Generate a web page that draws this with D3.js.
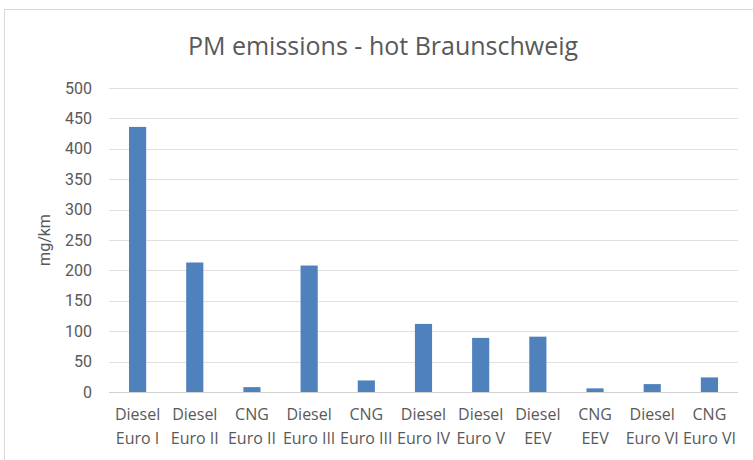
<!DOCTYPE html>
<html>
<head>
<meta charset="utf-8">
<script src="https://cdn.jsdelivr.net/npm/d3@7"></script>
<style>
  body { margin: 0; background: #fff; }
  svg text { fill: #595959; }
</style>
</head>
<body>
<div id="chart"></div>
<script>
// categories: fuel + emission standard (two label lines)
var fuels = ["Diesel", "Diesel", "CNG", "Diesel", "CNG", "Diesel", "Diesel", "Diesel", "CNG", "Diesel", "CNG"];
var standards = ["Euro I", "Euro II", "Euro II", "Euro III", "Euro III", "Euro IV", "Euro V", "EEV", "EEV", "Euro VI", "Euro VI"];
var pmValues = [436, 213, 8, 208, 19, 112, 89, 91, 6, 13, 24];
var yTicks = [0, 50, 100, 150, 200, 250, 300, 350, 400, 450, 500];

var svgWidth = 753;
var svgHeight = 460;

var margin = { top: 88, right: 15, bottom: 68, left: 109 };
var width = svgWidth - margin.left - margin.right;
var height = svgHeight - margin.top - margin.bottom;

var svg = d3.select("#chart")
  .append("svg")
  .attr("width", svgWidth)
  .attr("height", svgHeight);

// chart border
svg.append("rect")
  .attr("x", 4.5).attr("y", 9.5)
  .attr("width", 770).attr("height", 470)
  .attr("fill", "none")
  .attr("stroke", "#d9d9d9");

var chartGroup = svg.append("g")
  .attr("transform", `translate(${margin.left}, ${margin.top})`);

var idx = d3.range(pmValues.length);

var xScale = d3.scaleBand()
  .domain(idx)
  .range([0, width])
  .paddingInner(0.7)
  .paddingOuter(0.35);

var yScale = d3.scaleLinear()
  .domain([0, 500])
  .range([height, 0]);

// gridlines
chartGroup.selectAll(".grid")
  .data(yTicks)
  .enter()
  .append("line")
  .attr("x1", 0).attr("x2", width)
  .attr("y1", d => Math.round(yScale(d)) + 0.5)
  .attr("y2", d => Math.round(yScale(d)) + 0.5)
  .attr("stroke", d => d === 0 ? "#d0d0d0" : "#e0e0e0")
  .attr("stroke-width", 1);

// y tick labels
var leftAxis = d3.axisLeft(yScale).tickValues(yTicks).tickSize(0).tickPadding(17);
var yAxisG = chartGroup.append("g").call(leftAxis);
yAxisG.select(".domain").remove();
yAxisG.selectAll("text")
  .style("font-family", "Roboto, sans-serif")
  .style("font-size", "16px")
  .style("fill", "#595959");

// bars
chartGroup.selectAll("rect.bar")
  .data(pmValues)
  .enter()
  .append("rect")
  .attr("class", "bar")
  .attr("x", (d, i) => xScale(i))
  .attr("y", d => yScale(d))
  .attr("width", xScale.bandwidth())
  .attr("height", d => height - yScale(d))
  .attr("fill", "#4f81bd");

// category labels
var catLabels = chartGroup.selectAll(".cat")
  .data(idx)
  .enter()
  .append("text")
  .attr("class", "cat")
  .attr("text-anchor", "middle")
  .style("font-family", "'Liberation Sans Narrow', 'Open Sans', sans-serif")
  .style("font-size", "16px");

catLabels.append("tspan")
  .attr("x", i => xScale(i) + xScale.bandwidth() / 2)
  .attr("y", height + 28)
  .text(i => fuels[i]);
catLabels.append("tspan")
  .attr("x", i => xScale(i) + xScale.bandwidth() / 2)
  .attr("y", height + 52)
  .text(i => standards[i]);

// axis title
chartGroup.append("text")
  .attr("transform", `translate(-59, ${height / 2})rotate(-90)`)
  .attr("text-anchor", "middle")
  .style("font-family", "Roboto, sans-serif")
  .style("font-size", "16px")
  .text("mg/km");

// chart title
svg.append("text")
  .attr("x", 383)
  .attr("y", 55)
  .attr("text-anchor", "middle")
  .style("font-family", "'Liberation Sans Narrow', 'Open Sans', sans-serif")
  .style("font-size", "25px")
  .text("PM emissions - hot Braunschweig");
</script>
</body>
</html>
